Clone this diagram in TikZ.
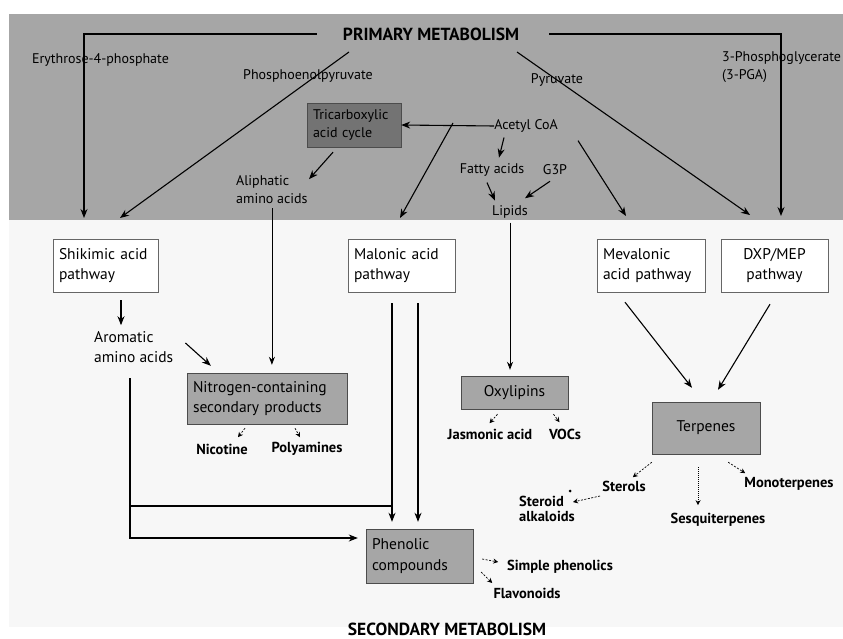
\documentclass[tikz,border=0pt]{standalone}
\usepackage{fontspec}
\setmainfont{PT Sans}
\usetikzlibrary{arrows.meta, positioning, calc}

\begin{document}
\begin{tikzpicture}[x=1pt, y=-1pt,
    lab/.style = {font=\fontsize{15.5}{20.5}\selectfont, align=left, inner sep=0pt},
    smlab/.style = {font=\fontsize{14}{18}\selectfont, align=left, inner sep=0pt},
    prod/.style = {font=\bfseries\fontsize{14.5}{15}\selectfont, align=left, inner sep=0pt},
    headline/.style = {font=\bfseries\fontsize{17.5}{19}\selectfont, inner sep=0pt},
    pbox/.style = {draw=black!60, fill=white, rectangle, lab, inner sep=6pt},
    gbox/.style = {draw=black!70, fill=black!35, rectangle, lab, inner sep=6pt},
    dbox/.style = {draw=black!70, fill=black!55, rectangle, smlab, inner sep=6pt},
    arr/.style = {-{Stealth[length=9pt,width=7pt]}, line width=1.1pt},
    lline/.style = {-{Stealth[length=8pt,width=6pt]}, line width=0.8pt},
    dsh/.style = {-{Stealth[length=5pt,width=5pt]}, dash pattern=on 2pt off 1.5pt, line width=0.7pt},
    dtt/.style = {-{Stealth[length=5pt,width=5pt]}, dash pattern=on 1pt off 1pt, line width=0.8pt}
  ]
% background bands
\fill[black!3] (9,220) rectangle (843,627);
\fill[black!35] (9,14) rectangle (843,220);
\useasboundingbox (0,0) rectangle (843,639);

% primary metabolism
\node[headline] (prim) at (431,34) {PRIMARY METABOLISM};
\node[smlab, anchor=west] (ery) at (32,60) {Erythrose-4-phosphate};
\node[smlab, anchor=west] (pep) at (243,76) {Phosphoenolpyruvate};
\node[smlab] (pyr) at (557,80) {Pyruvate};
\node[smlab, anchor=west] (pga) at (722,67) {3-Phosphoglycerate\\(3-PGA)};
\node[dbox, text width=82pt, minimum height=44pt] (tca) at (354,125) {Tricarboxylic\\acid cycle};
\node[smlab] (acoa) at (526,126) {Acetyl CoA};
\node[smlab, anchor=west] (ali) at (236,190) {Aliphatic\\amino acids};
\node[smlab] (fatty) at (492,170) {Fatty acids};
\node[smlab] (g3p) at (555,170) {G3P};
\node[smlab] (lip) at (510,212) {Lipids};

% pathways
\node[pbox, text width=93pt, minimum height=53pt] (shik) at (105.5,265.5) {Shikimic acid\\pathway};
\node[pbox, text width=95pt, minimum height=53pt] (malo) at (401.5,265.5) {Malonic acid\\pathway};
\node[pbox, text width=96pt, minimum height=53pt] (meva) at (651,265.5) {Mevalonic\\acid pathway};
\node[pbox, text width=95pt, minimum height=53pt, align=center] (dxp) at (774.5,265.5) {DXP/MEP\\pathway};
\node[lab, anchor=west] (arom) at (94,347) {Aromatic\\amino acids};

% secondary products
\node[gbox, text width=148pt, minimum height=51pt] (nitro) at (267,398.5) {Nitrogen-containing\\secondary products};
\node[gbox, text width=95pt, minimum height=33pt, align=center] (oxy) at (514.5,392.5) {Oxylipins};
\node[gbox, text width=96pt, minimum height=52pt, align=center] (terp) at (706,428) {Terpenes};
\node[gbox, text width=95pt, minimum height=54pt] (phen) at (419.5,556) {Phenolic\\compounds};

\node[prod] (nic) at (222,449) {Nicotine};
\node[prod] (poly) at (307,449) {Polyamines};
\node[prod] (jas) at (490,434) {Jasmonic acid};
\node[prod] (voc) at (565,434) {VOCs};
\node[prod] (ster) at (624,486) {Sterols};
\node[prod, anchor=west] (stal) at (519,509) {Steroid\\alkaloids};
\node[circle, fill, inner sep=0pt, minimum size=3pt] (dot) at (570,491) {};
\node[prod] (sesq) at (718,520) {Sesquiterpenes};
\node[prod] (mono) at (789,484) {Monoterpenes};
\node[prod] (simp) at (560,567) {Simple phenolics};
\node[prod] (flav) at (527,593) {Flavonoids};

\node[headline] (sec) at (447,629) {SECONDARY METABOLISM};

% free ends
\coordinate (shiktop) at (84,218);
\coordinate (peptop) at (120,218);
\coordinate (malotop) at (400,218);
\coordinate (mevatop) at (626,216);
\coordinate (pyrtop) at (750,215);
\coordinate (dxptop) at (781,216);
\coordinate (pepst) at (349,52);
\coordinate (pyrst) at (517,52);
\coordinate (acbr) at (453,123);
\coordinate (arst) at (130,378);
\coordinate (arjn) at (130,506);
\coordinate (majn) at (392,506);

% arrows out of primary metabolism
\draw[arr] ([xshift=-26pt]prim.west) -| (shiktop);
\draw[arr] ([xshift=30pt]prim.east) -| (dxptop);
\draw[arr] (pepst) -- (peptop);
\draw[arr] (pyrst) -- (pyrtop);
\draw[arr] (acoa.west) -- (tca.east);
\draw[arr] (acbr) -- (malotop);
\draw[arr] ($(tca.south)+(-21,5)$) -- ($(tca.south)+(-45,32)$);
\draw[arr] ($(acoa.south)+(-22,5)$) -- ($(acoa.south)+(-27,25)$);
\draw[arr] ($(fatty.south)+(-5,6)$) -- ($(fatty.south)+(3,24)$);
\draw[arr] ($(g3p.south)+(-5,6)$) -- ($(g3p.south)+(-30,23)$);
\draw[arr] ($(acoa.south)+(52,8)$) -- (mevatop);
\draw[lline] ([yshift=-4pt]ali.south) -- ([yshift=8pt]ali.south |- nitro.north);
\draw[lline] ([yshift=-4pt]lip.south) -- ([yshift=6pt]lip.south |- oxy.north);

% pathways to products
\draw[arr] ($(shik.south)+(15.5,8)$) -- ++(0,25);
\draw[arr] ($(arom.east)+(12,-4)$) -- ($(nitro.north west)+(24,-7)$);
\draw[arr] ($(meva.south)+(-26,10)$) -- ($(terp.north)+(-14,-14)$);
\draw[arr] ($(dxp.south)+(-4.5,12)$) -- ($(terp.north)+(12,-12)$);
\draw[arr] ($(malo.south)+(-9.5,11)$) -- ([yshift=7pt,xshift=-27.5pt]phen.north);
\draw[arr] ($(malo.south)+(16.5,11)$) -- ([yshift=7pt,xshift=-1.5pt]phen.north);
\draw[arr] (arst) |- ($(phen.west)+(-8,-18)$);
\draw[line width=1.1pt] (arjn) -- (majn);

% dashed product arrows
\draw[dsh] ($(nitro.south)+(-22,4)$) -- ($(nitro.south)+(-29,13)$);
\draw[dsh] ($(nitro.south)+(28,4)$) -- ($(nitro.south)+(33,13)$);
\draw[dsh] ($(oxy.south)+(-17,5)$) -- ($(oxy.south)+(-25,14)$);
\draw[dsh] ($(oxy.south)+(39,5)$) -- ($(oxy.south)+(45,13)$);
\draw[dsh] ($(terp.south west)+(0,8)$) -- ($(terp.south west)+(-19,23)$);
\draw[dsh] ($(stal.west)+(81,-13)$) -- ($(stal.west)+(54,-7)$);
\draw[dtt] ($(terp.south)+(-8,13)$) -- ($(terp.south)+(-8,51)$);
\draw[dsh] ($(terp.south east)+(-32,8)$) -- ($(terp.south east)+(-15,19)$);
\draw[dsh] ($(phen.east)+(9,3)$) -- ($(phen.east)+(25,6)$);
\draw[dsh] ($(phen.east)+(8,16)$) -- ($(phen.east)+(19,27)$);
\end{tikzpicture}
\end{document}
